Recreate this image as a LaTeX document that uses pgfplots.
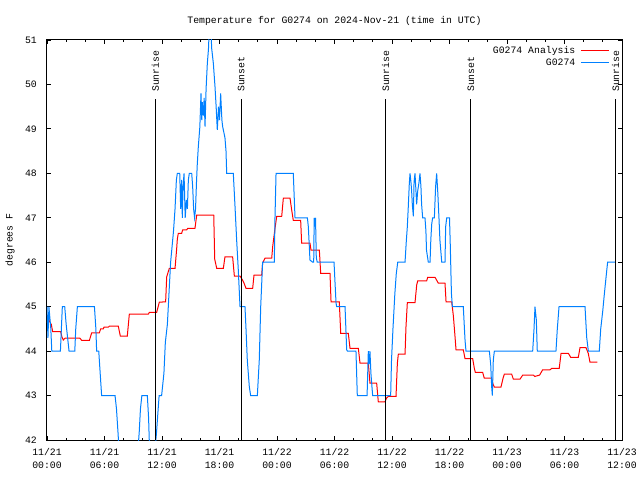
\documentclass[border=0pt]{standalone}
\usepackage{pgfplots}
\pgfplotsset{compat=1.18}
\usepackage{fontspec}
\setmainfont{Liberation Mono}
\definecolor{obsblue}{RGB}{0,128,255}
\begin{document}
\begin{tikzpicture}[font=\fontsize{9.8pt}{13pt}\selectfont]
\begin{axis}[
  scale only axis, width=575pt, height=400pt,
  at={(0pt,0pt)}, anchor=south west,
  xmin=0, xmax=60, ymin=42, ymax=51,
  xtick={0,6,12,18,24,30,36,42,48,54,60},
  xticklabels={{11/21\\00:00},{11/21\\06:00},{11/21\\12:00},{11/21\\18:00},{11/22\\00:00},{11/22\\06:00},{11/22\\12:00},{11/22\\18:00},{11/23\\00:00},{11/23\\06:00},{11/23\\12:00}},
  minor x tick num=2,
  ytick={42,43,44,45,46,47,48,49,50,51},
  yticklabels={42,43,44,45,46,47,48,49,50,51},
  /pgf/number format/assume math mode=true,
  xticklabel style={align=center, inner sep=0pt, yshift=-8pt},
  yticklabel style={anchor=east, inner sep=0pt, xshift=-10pt},
  major tick length=4pt, minor tick length=2pt,
  every tick/.style={black, line width=0.8pt},
  axis line style={line width=1pt},
  ylabel={degrees F},
  ylabel style={at={(rel axis cs:0,0.5)}, anchor=center, rotate=0, yshift=37pt},
  clip mode=individual,
  legend plot pos=right,
  legend cell align=right,
  legend style={draw=none, fill=none, at={(rel axis cs:1,1)}, anchor=north east, xshift=-12pt, yshift=-4pt, inner sep=0pt, row sep=0pt, column sep=3pt, cells={anchor=east}},
  legend image code/.code={\draw[#1] (0pt,0pt) -- (28.5pt,0pt);},
]
\addplot[red, line width=1pt, sharp plot, mark=none] coordinates {
(0,44.81) (0.15,44.75) (0.24,44.68) (0.45,44.6) (0.59,44.44) (1.43,44.44) (1.57,44.31) (1.7,44.25) (1.88,44.29)
(3.44,44.29) (3.62,44.24) (4.42,44.24) (4.66,44.41) (5.46,44.41) (5.6,44.5) (5.88,44.5) (5.95,44.54) (6.4,44.54)
(6.5,44.56) (7.44,44.56) (7.65,44.34) (8.38,44.34) (8.59,44.83) (10.57,44.83) (10.68,44.87) (11.44,44.87)
(11.72,45.1) (12.38,45.11) (12.49,45.67) (12.76,45.86) (13.36,45.86) (13.53,46.3) (13.6,46.52) (13.7,46.65)
(14.05,46.65) (14.16,46.73) (14.58,46.73) (14.68,46.76) (15.44,46.76) (15.62,47.06) (17.4,47.06) (17.5,46.07)
(17.71,45.86) (18.4,45.86) (18.57,46.12) (19.37,46.12) (19.55,45.69) (20.14,45.69) (20.4,45.6) (20.56,45.53)
(20.77,45.41) (21.46,45.41) (21.6,45.71) (22.4,45.71) (22.5,45.98) (22.75,46.09) (23.45,46.09) (23.55,46.35)
(23.79,46.76) (23.97,47.03) (24.49,47.03) (24.66,47.44) (25.36,47.44) (25.53,47.18) (25.7,46.94) (26.47,46.94)
(26.57,46.43) (27.44,46.43) (27.55,46.27) (28.42,46.27) (28.56,45.75) (29.53,45.75) (29.64,45.11) (30.5,45.11)
(30.65,44.4) (31.44,44.4) (31.62,44.06) (32.49,44.06) (32.66,43.73) (33.53,43.73) (33.7,43.28) (34.4,43.28)
(34.57,42.86) (35.27,42.86) (35.45,42.95) (35.62,42.98) (36.42,42.98) (36.56,43.73) (36.66,43.93) (37.36,43.93)
(37.46,44.55) (37.6,45.09) (38.4,45.09) (38.58,45.49) (38.68,45.58) (39.62,45.58) (39.72,45.66) (40.49,45.66)
(40.65,45.6) (40.83,45.53) (41.53,45.53) (41.64,45.11) (42.23,45.11) (42.4,44.8) (42.55,44.4) (42.68,44.03)
(43.44,44.03) (43.62,43.83) (44.42,43.83) (44.6,43.6) (44.7,43.52) (45.46,43.52) (45.63,43.39) (46.4,43.39)
(46.55,43.25) (46.68,43.19) (47.37,43.19) (47.6,43.4) (47.72,43.48) (48.49,43.48) (48.66,43.37) (49.36,43.37)
(49.64,43.46) (50.75,43.46) (50.9,43.43) (51.4,43.46) (51.72,43.58) (52.49,43.58) (52.66,43.61) (53.45,43.61)
(53.64,43.95) (54.4,43.95) (54.65,43.86) (55.44,43.86) (55.62,44.08) (56.24,44.08) (56.48,43.95) (56.66,43.75)
(57.43,43.75)
};
\addlegendentry{G0274 Analysis}
\addplot[obsblue, line width=1pt, sharp plot, mark=none] coordinates {
(0,45) (0.1,44.3) (0.2,45) (0.4,44.5) (0.5,44) (1.4,44) (1.5,44.5) (1.6,45) (1.85,45) (2.0,44.6) (2.3,44)
(2.9,44) (3.0,44.5) (3.17,45) (4.95,45) (5.1,44.5) (5.18,44) (5.4,44) (5.55,43.5) (5.7,43) (7.1,43) (7.25,42.7)
(7.4,42.2) (7.6,41.5) (9.4,41.5) (9.63,42.2) (9.75,42.7) (9.9,43) (10.47,43) (10.6,42.5) (10.7,41.8) (11.2,41.6)
(11.44,42.2) (11.6,42.7) (11.7,43) (11.96,43) (12.2,43.5) (12.35,44.2) (12.56,44.6) (12.9,46) (13.2,46.7)
(13.36,47.2) (13.5,47.85) (13.6,48) (13.85,48) (13.95,47.2) (14.05,47.85) (14.12,47) (14.2,47.7) (14.3,48)
(14.42,47) (14.55,47.4) (14.65,47.2) (14.75,47.85) (14.85,48) (15.1,48) (15.2,47.7) (15.3,47.2) (15.4,47)
(15.5,47.2) (15.6,47.8) (15.68,48.2) (15.79,48.6) (15.95,49.05) (16.07,49.8) (16.15,49.2) (16.2,49.6)
(16.31,49.3) (16.4,49.7) (16.49,49.05) (16.6,49.9) (16.73,50.47) (16.85,50.8) (16.94,51.3) (17.08,51.3)
(17.19,50.8) (17.36,50.47) (17.53,49.95) (17.65,49.5) (17.77,48.98) (17.9,49.5) (18.0,49.2) (18.12,49.8)
(18.25,49.2) (18.33,49.05) (18.57,48.8) (18.68,48.5) (18.75,48) (19.44,48) (19.62,47.25) (19.79,46.5)
(19.96,45.83) (20.14,45) (20.66,45) (20.77,44.48) (20.9,43.8) (21.11,43.2) (21.25,43) (21.95,43) (22.15,43.8)
(22.3,45) (22.5,46) (23.72,46) (23.79,47) (23.9,48) (25.7,48) (25.88,47) (27.17,47) (27.27,46.8) (27.44,46.05)
(27.72,46) (27.83,46) (27.88,47) (27.95,46.8) (28.02,47) (28.1,46.1) (28.2,46) (29.95,46) (30.16,45.08)
(30.23,45) (31.1,45) (31.27,44.03) (31.35,44) (32.24,44) (32.38,43) (33.4,43) (33.53,44) (33.6,43.7)
(33.7,44) (33.8,43.5) (33.98,43) (35.86,43) (35.95,43.8) (36.1,44.5) (36.3,45.3) (36.45,45.75) (36.6,46)
(37.36,46) (37.5,46.5) (37.6,46.8) (37.7,47.25) (37.8,47.74) (37.88,48) (37.98,47.8) (38.05,47.6) (38.12,47.3)
(38.23,47.03) (38.3,47.8) (38.4,48) (38.5,47.6) (38.57,47.3) (38.68,47.6) (38.82,47.8) (38.92,48) (39.02,47.7)
(39.09,47.3) (39.2,47) (39.44,47) (39.54,46.7) (39.6,46.27) (39.79,46) (39.97,46) (40.05,46.5) (40.14,46.85)
(40.24,47) (40.42,47) (40.55,47.7) (40.66,48) (40.77,47.6) (40.9,47) (41.0,46.5) (41.19,46) (41.53,46)
(41.6,46.8) (41.71,47) (42.0,47) (42.08,46.4) (42.2,45.3) (42.3,45) (43.44,45) (43.62,44.25) (43.72,44)
(46.16,44) (46.3,43.7) (46.4,43.2) (46.47,43) (46.57,43.8) (46.68,44) (50.68,44) (50.82,44.5) (50.92,45)
(51.06,44.7) (51.16,44) (53.11,44) (53.25,44.5) (53.43,45) (56.14,45) (56.32,44.3) (56.49,44) (57.63,44)
(57.78,44.5) (57.99,44.9) (58.12,45.2) (58.26,45.5) (58.4,45.8) (58.5,46) (59.27,46)
};
\addlegendentry{G0274}
% sunrise / sunset markers
\draw[black, line width=1pt] (axis cs:11.32,42) -- (axis cs:11.32,49.67);
\draw[black, line width=1pt] (axis cs:20.25,42) -- (axis cs:20.25,49.67);
\draw[black, line width=1pt] (axis cs:35.33,42) -- (axis cs:35.33,49.67);
\draw[black, line width=1pt] (axis cs:44.23,42) -- (axis cs:44.23,49.67);
\draw[black, line width=1pt] (axis cs:59.33,42) -- (axis cs:59.33,49.67);
\node[rotate=90, anchor=west, inner sep=0pt] at (axis cs:11.32,49.83) {Sunrise};
\node[rotate=90, anchor=west, inner sep=0pt] at (axis cs:20.25,49.83) {Sunset};
\node[rotate=90, anchor=west, inner sep=0pt] at (axis cs:35.33,49.83) {Sunrise};
\node[rotate=90, anchor=west, inner sep=0pt] at (axis cs:44.23,49.83) {Sunset};
\node[rotate=90, anchor=west, inner sep=0pt] at (axis cs:59.33,49.83) {Sunrise};
\node[anchor=base, yshift=16.3pt] at (rel axis cs:0.5,1) {Temperature for G0274 on 2024-Nov-21 (time in UTC)};
\end{axis}
\pgfresetboundingbox
\path[use as bounding box] (-47pt,-40pt) rectangle (593pt,440pt);
\end{tikzpicture}
\end{document}
